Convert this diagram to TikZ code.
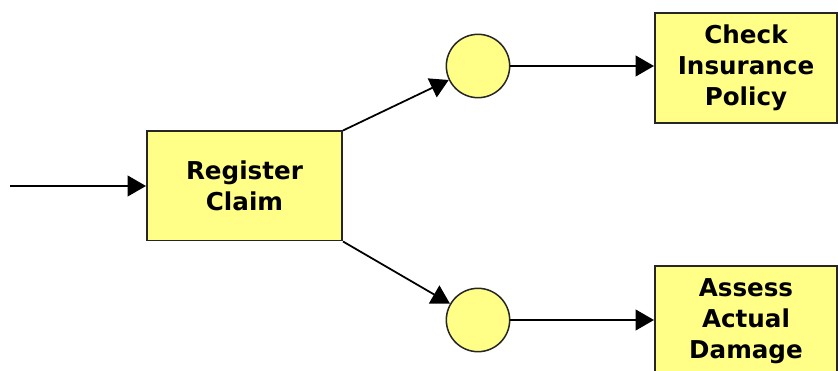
\documentclass[tikz,border=0pt]{standalone}
\usepackage{fontspec}
\setsansfont{DejaVu Sans}
\usetikzlibrary{arrows.meta, positioning}
\definecolor{taskyellow}{RGB}{255,255,136}

\begin{document}
\begin{tikzpicture} [
						x=0.03cm, y=-0.03cm,
						task/.style={draw=black!85, line width=1.7pt, fill=taskyellow,
							align=center, inner sep=0pt,
							font=\sffamily\bfseries\fontsize{21}{26.4}\selectfont},
						place/.style={circle, draw=black!85, line width=1.3pt, fill=taskyellow,
							minimum size=1.9cm, inner sep=0pt},
						flow/.style={-{Triangle[length=0.55cm, width=0.62cm]}, line width=1.5pt}
					]

\clip (0,0) rectangle (838,371);
\useasboundingbox (0,0) rectangle (838,371);

\node (reg) [task, minimum width=5.85cm, minimum height=3.27cm] at (244.5,186) {Register\\Claim};
\coordinate (in) at (10,186);
\node (p1) [place] at (478,66) {};
\node (p2) [place] at (478,320) {};
\node (chk) [task, minimum width=5.46cm, minimum height=3.3cm] at (746,68) {Check\\Insurance\\Policy};
\node (ass) [task, minimum width=5.46cm, minimum height=3.3cm] at (746,321) {Assess\\Actual\\Damage};

\path[flow]
	(in) edge (reg)
	(reg.north east) edge (p1)
	(reg.south east) edge (p2)
	(p1) edge (p1 -| chk.west)
	(p2) edge (p2 -| ass.west);
\end{tikzpicture}
\end{document}
